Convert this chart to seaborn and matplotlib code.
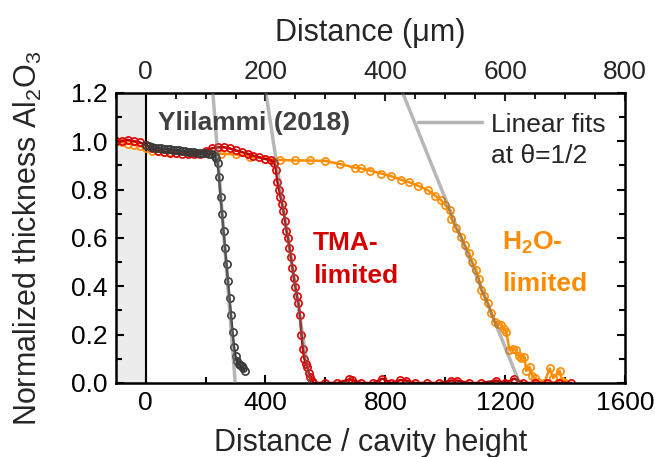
import matplotlib
matplotlib.use("Agg")
import matplotlib.pyplot as plt
from matplotlib.ticker import MultipleLocator, FormatStrFormatter
from matplotlib.lines import Line2D
import seaborn as sns
import numpy as np

# Ylilammi (2018) reference profile
ylil_x = [0, 10, 20, 30, 40, 50, 60, 70, 80, 90, 100, 110, 120, 130, 140, 150, 160, 170,
          180, 190, 200, 210, 220, 230, 235, 240, 245, 250, 255, 260, 265, 270, 275, 280,
          285, 290, 295, 300, 305, 310, 315, 320, 325, 330]
ylil_y = [0.985, 0.978, 0.975, 0.972, 0.973, 0.970, 0.968, 0.967, 0.966, 0.964, 0.963, 0.962,
          0.960, 0.958, 0.957, 0.956, 0.955, 0.953, 0.952, 0.951, 0.950, 0.948, 0.946, 0.940,
          0.930, 0.91, 0.85, 0.77, 0.70, 0.63, 0.56, 0.49, 0.42, 0.35, 0.28, 0.21, 0.15, 0.11,
          0.09, 0.08, 0.075, 0.07, 0.06, 0.05]

# TMA-limited profile
tma_x = [-100, -80, -60, -40, -20, 0, 20, 40, 60, 80, 100, 120, 140, 160, 180, 200, 220, 240,
         260, 280, 300, 320, 340, 360, 380, 400, 420, 430, 435, 440, 445, 450, 455, 460, 465,
         470, 475, 480, 485, 490, 495, 500, 505, 510, 515, 520, 525, 530, 535, 540, 545, 550,
         555, 560, 600, 640, 680, 690, 720, 760, 790, 820, 850, 870, 900, 940, 980, 1020,
         1040, 1080, 1120, 1170, 1200, 1230, 1260, 1300, 1340, 1380, 1420]
tma_y = [1.0, 1.0, 1.005, 1.0, 0.995, 0.985, 0.97, 0.96, 0.955, 0.953, 0.95, 0.948, 0.945,
         0.945, 0.948, 0.96, 0.97, 0.975, 0.975, 0.97, 0.962, 0.955, 0.948, 0.94, 0.933,
         0.926, 0.92, 0.91, 0.88, 0.83, 0.80, 0.77, 0.74, 0.71, 0.67, 0.63, 0.60, 0.56, 0.52,
         0.475, 0.435, 0.395, 0.36, 0.33, 0.28, 0.20, 0.14, 0.10, 0.08, 0.065, 0.04, 0.025,
         0.01, 0.0, 0.0, 0.0, 0.015, 0.012, 0.0, 0.0, 0.018, 0.0, 0.012, 0.01, 0.0, 0.0, 0.0,
         0.01, 0.01, 0.0, 0.0, 0.01, 0.0, 0.018, 0.0, 0.0, 0.0, 0.0, 0.0]

# H2O-limited profile
h2o_x = [-100, -80, -60, -40, -20, 0, 20, 40, 60, 80, 100, 150, 200, 250, 300, 350, 400, 450,
         500, 550, 600, 650, 700, 720, 750, 786, 820, 853, 880, 910, 942, 965, 986, 1000,
         1014, 1020, 1035, 1053, 1065, 1080, 1090, 1103, 1112, 1120, 1130, 1142, 1153, 1164,
         1175, 1186, 1195, 1203, 1214, 1225, 1236, 1245, 1253, 1264, 1270, 1281, 1290, 1298,
         1310, 1330, 1348, 1360, 1381, 1390, 1400]
h2o_y = [1.0, 0.995, 0.99, 0.985, 0.98, 0.97, 0.96, 0.958, 0.956, 0.955, 0.953, 0.95, 0.95,
         0.948, 0.945, 0.935, 0.928, 0.922, 0.92, 0.92, 0.918, 0.905, 0.89, 0.887, 0.878,
         0.866, 0.855, 0.84, 0.83, 0.815, 0.797, 0.775, 0.756, 0.735, 0.715, 0.68, 0.64,
         0.605, 0.57, 0.536, 0.50, 0.467, 0.43, 0.384, 0.36, 0.329, 0.29, 0.253, 0.245, 0.24,
         0.225, 0.212, 0.136, 0.14, 0.136, 0.11, 0.102, 0.106, 0.05, 0.067, 0.03, 0.02, 0.005,
         0.0, 0.06, 0.02, 0.051, 0.01, 0.0]

# linear fits at theta = 1/2: position of half thickness and slope (per unit distance)
fit_center = [268, 487, 1085]
fit_slope = [-0.0161, -0.00818, -0.00308]

um_per_unit = 0.5  # micrometres per cavity height

sns.set_style("ticks")
plt.rcParams["font.family"] = ["Liberation Sans", "DejaVu Sans"]
plt.rcParams["mathtext.fontset"] = "custom"
plt.rcParams["mathtext.rm"] = "Liberation Sans"
plt.rcParams["mathtext.bf"] = "Liberation Sans:bold"

fig = plt.figure(figsize=(6.55, 4.57), dpi=100)
ax = fig.add_axes([0.1765, 0.162, 0.778, 0.635])

ax.axvspan(-100, 0, color="#ececec", zorder=0, lw=0)
ax.axvline(0, color="black", lw=1.5, zorder=1)

mk = dict(marker="o", markersize=5.2, markerfacecolor="none", markeredgewidth=1.2)
sns.lineplot(x=h2o_x, y=h2o_y, ax=ax, color="#ff8c00", lw=1.8, sort=False,
             estimator=None, markeredgecolor="#ff8c00", zorder=2, **mk)
sns.lineplot(x=tma_x, y=tma_y, ax=ax, color="#b00000", lw=1.8, sort=False,
             estimator=None, markeredgecolor="#e00000", zorder=2.2, **mk)
sns.lineplot(x=ylil_x, y=ylil_y, ax=ax, color="#3a3a3a", lw=1.8, sort=False,
             estimator=None, markeredgecolor="#3a3a3a", zorder=2.4, **mk)

for c, s in zip(fit_center, fit_slope):
    yy = np.array([0.0, 1.3])
    xx = c + (yy - 0.5) / s
    ax.plot(xx, yy, color="#707070", alpha=0.5, lw=2.5, zorder=3, solid_capstyle="butt")

ax.set_xlim(-100, 1600)
ax.set_ylim(0, 1.2)
ax.xaxis.set_major_locator(MultipleLocator(400))
ax.xaxis.set_minor_locator(MultipleLocator(200))
ax.yaxis.set_major_locator(MultipleLocator(0.2))
ax.yaxis.set_minor_locator(MultipleLocator(0.1))
ax.yaxis.set_major_formatter(FormatStrFormatter("%.1f"))
ax.tick_params(which="both", direction="in", right=True, width=1.5, labelsize=19,
               colors="black", pad=6)
ax.tick_params(which="major", length=6)
ax.tick_params(which="minor", length=4)
for sp in ax.spines.values():
    sp.set_linewidth(1.8)
    sp.set_color("black")

top = ax.secondary_xaxis("top", functions=(lambda v: v * um_per_unit, lambda v: v / um_per_unit))
top.set_xticks([0, 200, 400, 600, 800])
top.xaxis.set_minor_locator(MultipleLocator(50))
top.tick_params(which="both", direction="in", width=1.5, labelsize=19, pad=6)
top.tick_params(which="major", length=6)
top.tick_params(which="minor", length=4)
top.set_xlabel("Distance (\u03bcm)", fontsize=22, labelpad=14)

ax.set_xlabel("Distance / cavity height", fontsize=22, labelpad=9)
ax.set_ylabel("Normalized thickness Al$_2$O$_3$", fontsize=22, labelpad=19)

ax.text(42, 1.045, "Ylilammi (2018)", fontsize=19, fontweight="bold", color="#404040",
        va="baseline", ha="left")
ax.text(559, 0.55, "TMA-", fontsize=19, fontweight="bold", color="#d40000",
        va="baseline", ha="left")
ax.text(559, 0.413, "limited", fontsize=19, fontweight="bold", color="#d40000",
        va="baseline", ha="left")
ax.text(1188, 0.55, r"H$_\mathbf{2}$O-", fontsize=19, fontweight="bold", color="#ff8c00",
        va="baseline", ha="left")
ax.text(1188, 0.38, "limited", fontsize=19, fontweight="bold", color="#ff8c00",
        va="baseline", ha="left")

handles = [Line2D([], [], color="#b4b4b4", lw=2.5), Line2D([], [], color="none")]
ax.legend(handles, ["Linear fits", "at \u03b8=1/2"], loc="upper right", frameon=False,
          fontsize=19, handlelength=2.4, borderaxespad=0.35, handletextpad=0.35,
          labelspacing=0.3)

fig.savefig("out.png", dpi=100)
